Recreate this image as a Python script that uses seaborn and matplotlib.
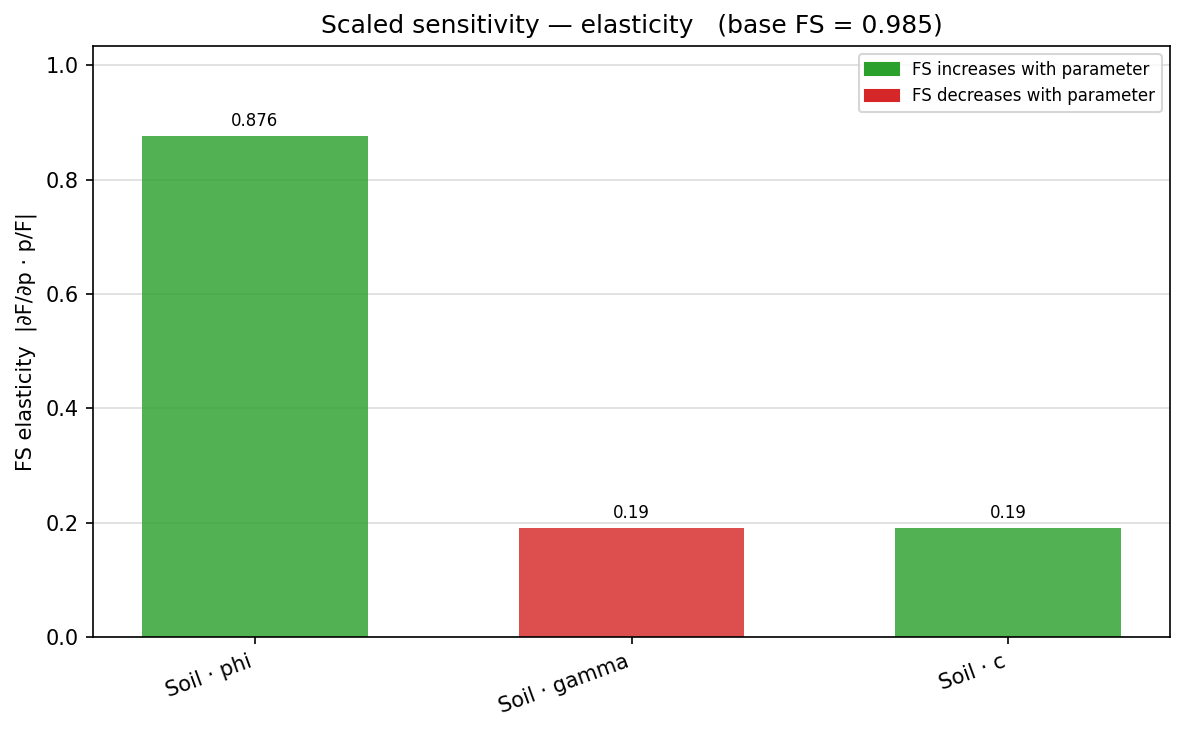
import matplotlib
matplotlib.use("Agg")
import matplotlib.pyplot as plt
import seaborn as sns
import pandas as pd
from matplotlib.patches import Patch

# elasticity data
params = ["Soil · phi", "Soil · gamma", "Soil · c"]
elasticity = [0.876, 0.19, 0.19]
direction = ["up", "down", "up"]
base_fs = 0.985

colors = {"up": "#2ca02c", "down": "#d62728"}

df = pd.DataFrame({"param": params, "elasticity": elasticity, "direction": direction})

fig, ax = plt.subplots(figsize=(1184 / 150, 732 / 150), dpi=150)
sns.barplot(data=df, x="param", y="elasticity", hue="direction", palette=colors,
            dodge=False, width=0.6, alpha=0.82, saturation=1, legend=False, ax=ax)

# value labels above bars
for i, v in enumerate(elasticity):
    ax.annotate(f"{v:.3g}", (i, v), xytext=(0, 3), textcoords="offset points",
                ha="center", va="bottom", fontsize=8)

ax.set_ylim(0, max(elasticity) * 1.18)
ax.set_xlim(-0.43, 2.43)
ax.set_xlabel("")
ax.set_ylabel("FS elasticity  |∂F/∂p · p/F|")
ax.set_title(f"Scaled sensitivity — elasticity   (base FS = {base_fs:.3f})")
ax.yaxis.grid(True, color="#dddddd", linewidth=0.8)
ax.set_axisbelow(True)
plt.setp(ax.get_xticklabels(), rotation=20, ha="right")

handles = [Patch(color=colors["up"], label="FS increases with parameter"),
           Patch(color=colors["down"], label="FS decreases with parameter")]
ax.legend(handles=handles, loc="upper right", fontsize=8)

fig.subplots_adjust(left=93 / 1184, right=1170 / 1184, top=1 - 46 / 732, bottom=1 - 637 / 732)
fig.savefig("out.png", dpi=150)
